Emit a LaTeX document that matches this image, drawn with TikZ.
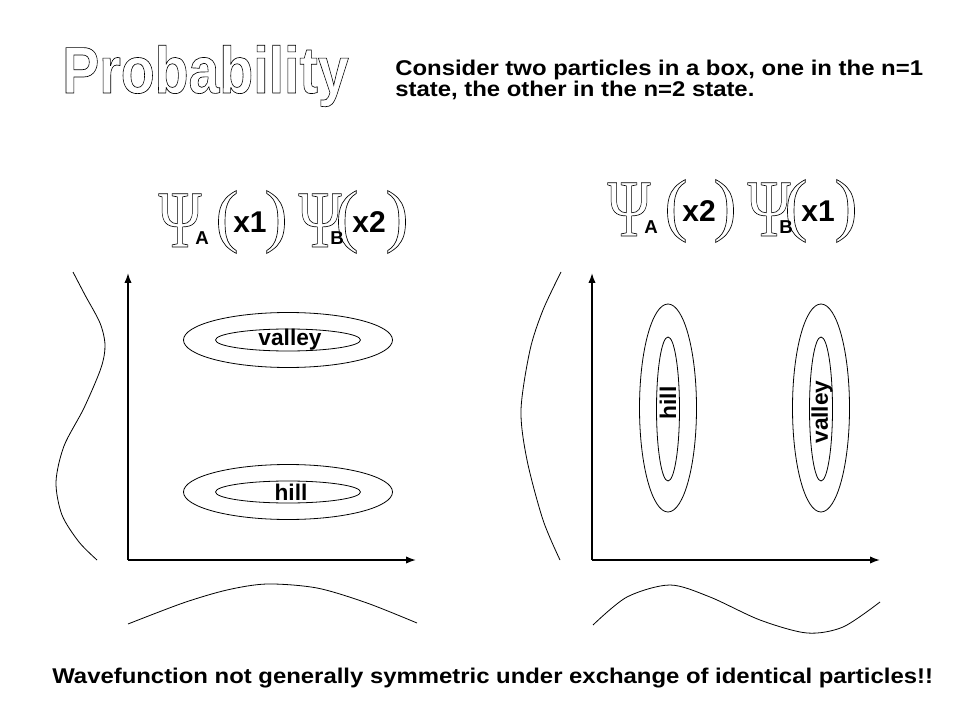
\documentclass[tikz,border=0pt]{standalone}
\usepackage{fontspec}
\setmainfont{Liberation Sans}
\newfontfamily\psifont{Liberation Serif}
\usepackage{tikz}
\usetikzlibrary{shapes,arrows.meta}
\tikzstyle{axis} = [draw, line width=1.1pt, -{Latex[length=7.5pt,width=5.5pt]}]
\tikzstyle{curve} = [draw, line width=0.6pt]
\tikzstyle{contour} = [draw, line width=0.6pt]
\tikzstyle{lbl} = [inner sep=0pt, font=\bfseries\fontsize{17}{17}\selectfont]
\tikzstyle{psi} = [anchor=base, inner sep=0pt]
\tikzstyle{paren} = [inner sep=0pt]
\tikzstyle{sub} = [anchor=base, inner sep=0pt, font=\bfseries\fontsize{14}{14}\selectfont]
\tikzstyle{var} = [anchor=base, inner sep=0pt, font=\bfseries\fontsize{22.5}{23}\selectfont]
\newcommand{\hollow}[1]{\special{pdf:literal direct 1 Tr 0.5 w}#1\special{pdf:literal direct 0 Tr}}
\newcommand{\psiglyph}{\scalebox{0.72}[1]{\psifont\fontsize{61}{61}\selectfont\hollow{Ψ}}}
\newcommand{\lpar}{{\psifont\fontsize{52}{52}\selectfont\hollow{(}}}
\newcommand{\rpar}{{\psifont\fontsize{52}{52}\selectfont\hollow{)}}}

\begin{document}
\begin{tikzpicture}[x=0.75pt, y=-0.75pt]
  \useasboundingbox (0,0) rectangle (960,720);

  % title and text
  \node[anchor=base west, inner sep=0pt] (title) at (62,93)
    {\scalebox{0.84}[1]{\fontsize{49.5}{50}\selectfont\bfseries\hollow{Probability}}};
  \node[anchor=north west, inner sep=0pt, align=left, xscale=1.12, transform shape,
        font=\bfseries\fontsize{16}{15.3}\selectfont] (intro) at (395,60)
    {Consider two particles in a box, one in the n=1\\state, the other in the n=2 state.};
  \node[anchor=base west, inner sep=0pt, xscale=1.12, transform shape,
        font=\bfseries\fontsize{16}{16}\selectfont] (remark) at (52,683)
    {Wavefunction not generally symmetric under exchange of identical particles!!};

  % wavefunction products
  \foreach \ox/\oy/\la/\lb/\nm in {180/247/x1/x2/left, 629/236/x2/x1/right} {
    \node[psi] (psia-\nm) at (\ox,\oy) {\psiglyph};
    \node[sub] (suba-\nm) at (\ox+22,\oy-2) {A};
    \node[paren] (lpa-\nm) at (\ox+47,\oy-25) {\lpar};
    \node[var] (vara-\nm) at (\ox+70,\oy-14) {\la};
    \node[paren] (rpa-\nm) at (\ox+96,\oy-25) {\rpar};
    \node[psi] (psib-\nm) at (\ox+140,\oy) {\psiglyph};
    \node[sub] (subb-\nm) at (\ox+157,\oy-2) {B};
    \node[paren] (lpb-\nm) at (\ox+167,\oy-25) {\lpar};
    \node[var] (varb-\nm) at (\ox+189,\oy-14) {\lb};
    \node[paren] (rpb-\nm) at (\ox+217,\oy-25) {\rpar};
  }

  % left plot
  \coordinate (o-left) at (128,560);
  \coordinate (ytip-left) at (128,273);
  \coordinate (xtip-left) at (416,560);
  \draw[axis] (o-left) -- (ytip-left);
  \draw[axis] (o-left) -- (xtip-left);
  \draw[contour] (288,340) ellipse (104.5 and 27.5);
  \draw[contour] (288,340) ellipse (72.5 and 11);
  \draw[contour] (288,492) ellipse (104.5 and 27.5);
  \draw[contour] (288,492) ellipse (72.5 and 11);
  \node[lbl] (valley-left) at (290,340) {valley};
  \node[lbl] (hill-left) at (291,492) {hill};
  \draw[curve] plot[smooth] coordinates {(73,272) (85,295) (100,323) (105,345) (101,368)
    (84,408) (64,446) (56,482) (62,515) (79,542) (97,560)};
  \draw[curve] plot[smooth] coordinates {(128,624) (183,603) (227,590) (267,584)
    (317,588) (367,603) (417,623)};

  % right plot
  \coordinate (o-right) at (592,560);
  \coordinate (ytip-right) at (592,273);
  \coordinate (xtip-right) at (880,560);
  \draw[axis] (o-right) -- (ytip-right);
  \draw[axis] (o-right) -- (xtip-right);
  \draw[contour] (668,408) ellipse (28.5 and 104);
  \draw[contour] (668,409) ellipse (11.5 and 72);
  \draw[contour] (821,408) ellipse (28.5 and 104);
  \draw[contour] (821,409) ellipse (11.5 and 72);
  \node[lbl, rotate=90] (hill-right) at (668,403) {hill};
  \node[lbl, rotate=90] (valley-right) at (822,412) {valley};
  \draw[curve] plot[smooth] coordinates {(561,272) (543,310) (530,350) (521,410)
    (527,460) (543,520) (560,560)};
  \draw[curve] plot[smooth] coordinates {(593,625) (627,597) (670,585) (710,597)
    (760,620) (807,633) (843,627) (880,602)};
\end{tikzpicture}
\end{document}
